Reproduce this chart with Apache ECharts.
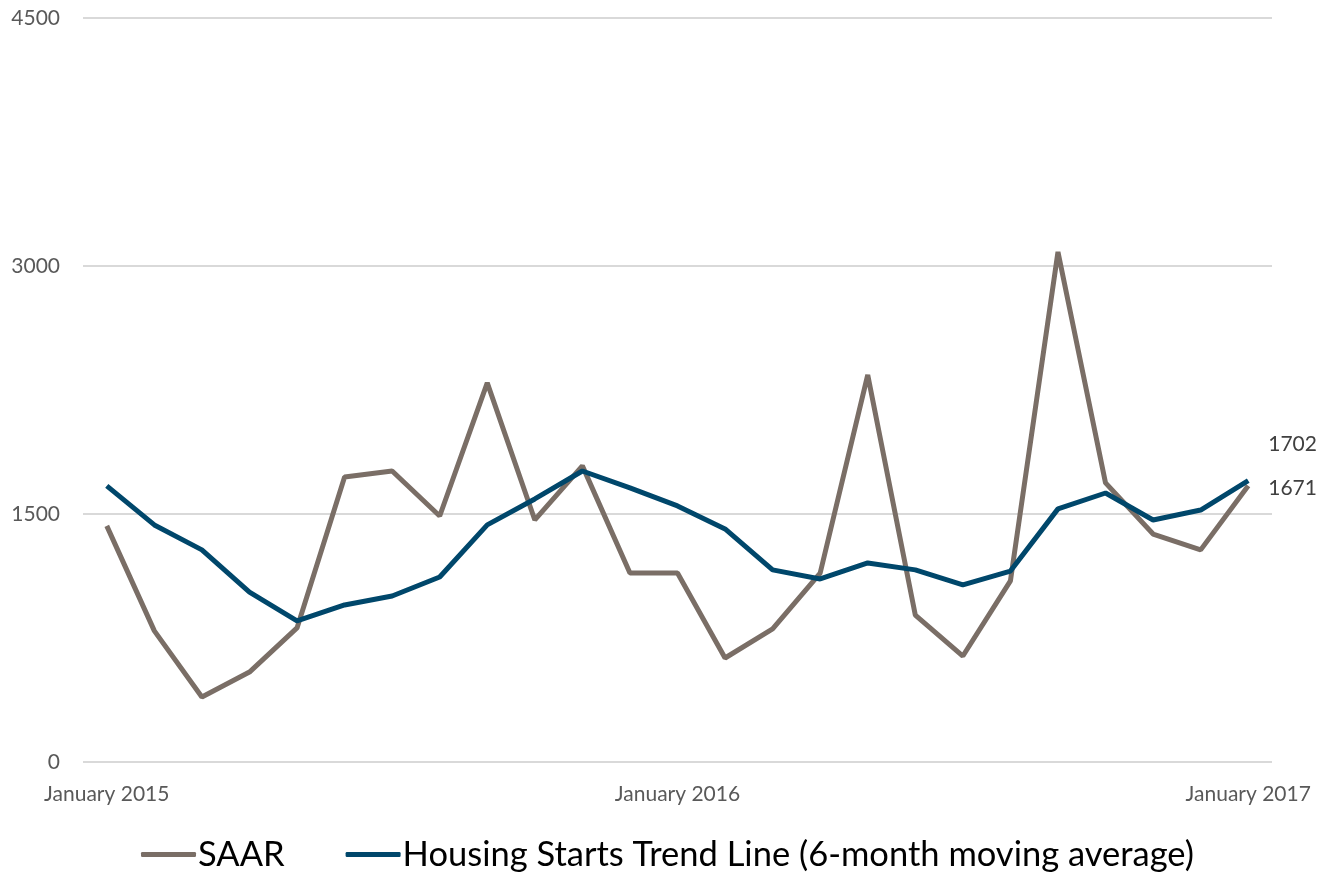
<!DOCTYPE html>
<html>
<head>
<meta charset="utf-8">
<script src="https://cdn.jsdelivr.net/npm/echarts@6/dist/echarts.min.js"></script>
<style>
  html, body {margin: 0; padding: 0; background: #fff;}
  #chart {width: 1335px; height: 875px;}
</style>
</head>
<body>
<div id="chart"></div>
<script>
// monthly, Jan 2015 .. Jan 2017
var months = ['January 2015', 'February 2015', 'March 2015', 'April 2015', 'May 2015', 'June 2015',
  'July 2015', 'August 2015', 'September 2015', 'October 2015', 'November 2015', 'December 2015',
  'January 2016', 'February 2016', 'March 2016', 'April 2016', 'May 2016', 'June 2016',
  'July 2016', 'August 2016', 'September 2016', 'October 2016', 'November 2016', 'December 2016',
  'January 2017']
var saar = [1428, 793, 393, 544, 811, 1724, 1760, 1488, 2293, 1464, 1791, 1143,
  1143, 629, 805, 1143, 2341, 889, 641, 1095, 3085, 1688, 1379, 1283, 1671]
var trend = [1670, 1434, 1283, 1028, 853, 950, 1004, 1119, 1434, 1591, 1760, 1658,
  1549, 1410, 1162, 1107, 1204, 1162, 1071, 1155, 1531, 1627, 1464, 1524, 1702]
var yTicks = [0, 1500, 3000, 4500]

var chart = echarts.init(document.getElementById('chart'))

function endLabel(offsetY) {
  return {
    show: true,
    distance: 20,
    offset: [0, offsetY],
    color: '#404040',
    fontFamily: 'Lato',
    fontSize: 21
  }
}

var option = {
  animation: false,
  textStyle: {fontFamily: 'Lato'},
  grid: {left: 83, right: 63, top: 18, bottom: 113},
  legend: {
    top: 832,
    left: 'center',
    itemWidth: 55,
    itemHeight: 5,
    itemGap: 61,
    icon: 'roundRect',
    textStyle: {fontSize: 34.5, color: '#000', fontFamily: 'Lato', padding: [0, 0, 0, -3]},
    data: ['SAAR', 'Housing Starts Trend Line (6-month moving average)']
  },
  xAxis: {
    type: 'category',
    data: months,
    boundaryGap: true,
    axisLine: {show: false},
    axisTick: {show: false},
    axisLabel: {
      interval: function (i) { return i % 12 === 0 },
      color: '#595959',
      fontSize: 21,
      margin: 22
    }
  },
  yAxis: {
    type: 'value',
    min: yTicks[0],
    max: yTicks[yTicks.length - 1],
    interval: yTicks[1] - yTicks[0],
    axisLine: {show: false},
    axisTick: {show: false},
    axisLabel: {color: '#595959', fontSize: 21, margin: 23, formatter: function (v) { return String(v) }},
    splitLine: {lineStyle: {color: '#d9d9d9', width: 2}}
  },
  series: [
    {
      name: 'SAAR',
      type: 'line',
      data: saar,
      symbol: 'none',
      color: '#7a6e66',
      lineStyle: {width: 5, color: '#7a6e66'},
      endLabel: endLabel(3),
      z: 2
    },
    {
      name: 'Housing Starts Trend Line (6-month moving average)',
      type: 'line',
      data: trend,
      symbol: 'none',
      color: '#00476b',
      lineStyle: {width: 5, color: '#00476b'},
      endLabel: endLabel(-36),
      z: 3
    }
  ]
}

chart.setOption(option)
</script>
</body>
</html>
